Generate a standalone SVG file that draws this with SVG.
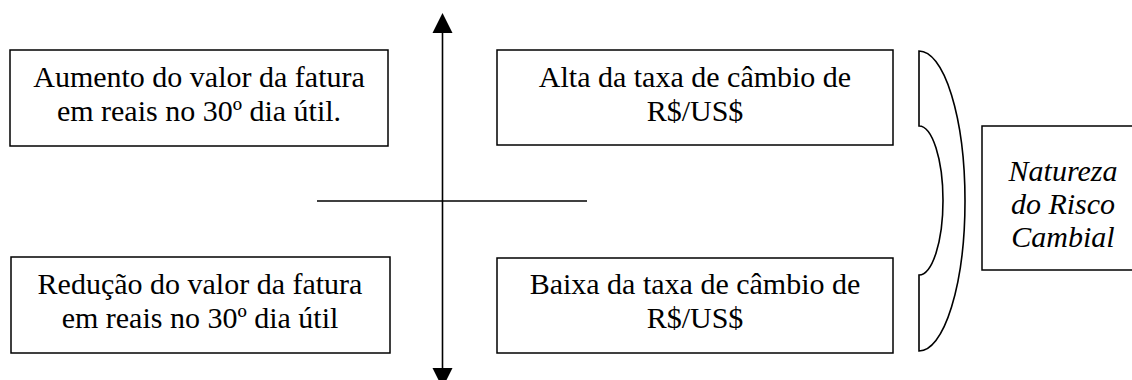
<svg xmlns="http://www.w3.org/2000/svg" width="1132" height="380" viewBox="0 0 1132 380">
<style>
.box{fill:#fff;stroke:#000;stroke-width:1.5}
.t{font-family:"Liberation Serif","Times New Roman",serif;font-size:30px;fill:#000;text-anchor:middle}
.i{font-style:italic}
.ln{stroke:#000;stroke-width:1.6;fill:none}
</style>
<rect width="1132" height="380" fill="#fff"/>
<g id="connectors">
<line class="ln" x1="442.5" y1="30" x2="442.5" y2="370"/>
<polygon points="442.5,13 432.5,33 452.5,33" fill="#000"/>
<polygon points="432.5,368 452.5,368 442.5,388" fill="#000"/>
<line class="ln" x1="317" y1="201" x2="587" y2="201"/>
</g>
<g id="brace">
<path class="ln" d="M919,51 A46,150 0 0 1 919,351 L919,275 A24,74.5 0 0 0 919,126 Z"/>
</g>
<g id="aumento">
<rect class="box" x="10" y="50" width="378" height="96"/>
<text class="t" x="199" y="87">Aumento do valor da fatura</text>
<text class="t" x="199" y="121">em reais no 30º dia útil.</text>
</g>
<g id="alta">
<rect class="box" x="497" y="50" width="396" height="95"/>
<text class="t" x="695" y="87">Alta da taxa de câmbio de</text>
<text class="t" x="695" y="121">R$/US$</text>
</g>
<g id="reducao">
<rect class="box" x="11" y="257" width="379" height="96"/>
<text class="t" x="200" y="294">Redução do valor da fatura</text>
<text class="t" x="200" y="328">em reais no 30º dia útil</text>
</g>
<g id="baixa">
<rect class="box" x="497" y="258" width="396" height="95"/>
<text class="t" x="695" y="294">Baixa da taxa de câmbio de</text>
<text class="t" x="695" y="328">R$/US$</text>
</g>
<g id="natureza">
<rect class="box" x="982" y="126" width="163" height="144"/>
<text class="t i" x="1063" y="181">Natureza</text>
<text class="t i" x="1063" y="214">do Risco</text>
<text class="t i" x="1063" y="247">Cambial</text>
</g>
</svg>
